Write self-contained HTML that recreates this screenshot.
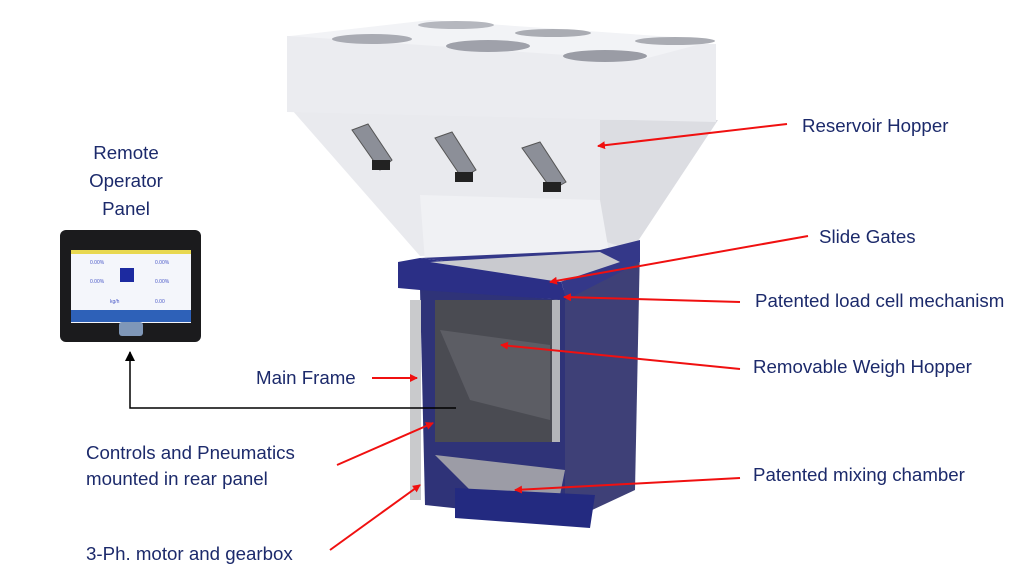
<!DOCTYPE html>
<html><head><style>
body{margin:0;background:#fff;width:1025px;height:577px;overflow:hidden;position:relative;font-family:"Liberation Sans",Arial,sans-serif}
.t{position:absolute;color:#1c2a6b;font-size:18.7px;line-height:26px;white-space:nowrap}
</style></head><body>
<svg width="1025" height="577" style="position:absolute;left:0;top:0">
<defs>
<marker id="r" markerWidth="8" markerHeight="8" refX="7" refY="4" orient="auto" markerUnits="userSpaceOnUse" viewBox="0 0 8 8"><path d="M0,0 L8,4 L0,8z" fill="#f01010"/></marker>
<marker id="k" markerWidth="10" markerHeight="10" refX="9" refY="5" orient="auto" markerUnits="userSpaceOnUse" viewBox="0 0 10 10"><path d="M0,0 L10,5 L0,10z" fill="#000"/></marker>
</defs>
<!-- hopper -->
<polygon points="292,110 718,120 632,250 420,256" fill="#e9eaee"/>
<polygon points="600,120 718,120 632,250 600,240" fill="#dcdde2"/>
<polygon points="420,195 600,200 610,258 425,262" fill="#f0f1f4"/>
<polygon points="287,36 716,44 716,122 287,112" fill="#ebecf0"/>
<polygon points="290,36 430,20 716,40 640,60" fill="#f2f3f6"/>
<ellipse cx="372" cy="39" rx="40" ry="5" fill="#a9abb3"/>
<ellipse cx="456" cy="25" rx="38" ry="4" fill="#b5b7be"/>
<ellipse cx="488" cy="46" rx="42" ry="6" fill="#9fa1aa"/>
<ellipse cx="553" cy="33" rx="38" ry="4" fill="#aaacb3"/>
<ellipse cx="605" cy="56" rx="42" ry="6" fill="#9a9ca5"/>
<ellipse cx="675" cy="41" rx="40" ry="4" fill="#aaacb3"/>
<g fill="#8c8f98" stroke="#555" stroke-width="1">
<path d="M352,130 L368,124 L392,160 L380,170 Z"/>
<path d="M435,138 L452,132 L476,170 L462,178 Z"/>
<path d="M522,148 L540,142 L566,182 L552,190 Z"/>
</g>
<rect x="372" y="160" width="18" height="10" fill="#222"/>
<rect x="455" y="172" width="18" height="10" fill="#222"/>
<rect x="543" y="182" width="18" height="10" fill="#222"/>
<!-- blue body -->
<polygon points="560,292 640,245 635,490 560,525" fill="#3e4077"/>
<polygon points="420,288 565,300 565,520 425,505" fill="#2f3378"/>
<rect x="435" y="300" width="120" height="142" fill="#4a4b52"/>
<polygon points="440,330 550,345 550,420 470,400" fill="#5c5d64"/>
<rect x="552" y="300" width="8" height="142" fill="#b4b5b9"/>
<polygon points="398,262 420,258 560,276 566,300 420,290 398,288" fill="#2b2f86"/>
<polygon points="420,258 600,250 640,240 640,262 566,300 560,276" fill="#343889"/>
<polygon points="430,262 600,252 620,262 560,282" fill="#c9cacf"/>
<polygon points="435,455 565,470 560,495 470,490" fill="#9c9ca6"/>
<polygon points="455,488 595,495 590,528 455,518" fill="#232a80"/>
<rect x="410" y="300" width="11" height="200" fill="#c9cacc"/>
<!-- arrows -->
<g stroke="#f01010" stroke-width="2" marker-end="url(#r)">
<line x1="787" y1="124" x2="598" y2="146"/>
<line x1="808" y1="236" x2="550" y2="282"/>
<line x1="740" y1="302" x2="564" y2="297"/>
<line x1="740" y1="369" x2="501" y2="345"/>
<line x1="372" y1="378" x2="417" y2="378"/>
<line x1="337" y1="465" x2="433" y2="423"/>
<line x1="740" y1="478" x2="515" y2="490"/>
<line x1="330" y1="550" x2="420" y2="485"/>
</g>
<polyline points="456,408 130,408 130,352" fill="none" stroke="#000" stroke-width="1.5" marker-end="url(#k)"/>
<!-- panel -->
<rect x="60" y="230" width="141" height="112" rx="6" fill="#1b1b1d"/>
<rect x="71" y="250" width="120" height="73" fill="#f4f6fb"/>
<rect x="71" y="250" width="120" height="4" fill="#e8d850"/>
<rect x="71" y="310" width="120" height="12" fill="#2e61b8"/>
<rect x="120" y="268" width="14" height="14" fill="#1c2aa0"/>
<rect x="119" y="322" width="24" height="14" rx="3" fill="#7f97b8"/>
<g fill="#4a59c8" font-size="5"><text x="90" y="264">0.00%</text><text x="155" y="264">0.00%</text><text x="90" y="283">0.00%</text><text x="155" y="283">0.00%</text><text x="110" y="303">kg/h</text><text x="155" y="303">0.00</text></g>
</svg>
<div class="t" style="left:802px;top:113px">Reservoir Hopper</div>
<div class="t" style="left:819px;top:224px">Slide Gates</div>
<div class="t" style="left:755px;top:288px">Patented load cell mechanism</div>
<div class="t" style="left:753px;top:354px">Removable Weigh Hopper</div>
<div class="t" style="left:753px;top:462px">Patented mixing chamber</div>
<div class="t" style="left:256px;top:365px">Main Frame</div>
<div class="t" style="left:86px;top:440px">Controls and Pneumatics<br>mounted in rear panel</div>
<div class="t" style="left:86px;top:541px">3-Ph. motor and gearbox</div>
<div class="t" style="left:76px;top:139px;width:100px;text-align:center;line-height:28px">Remote<br>Operator<br>Panel</div>
</body></html>
